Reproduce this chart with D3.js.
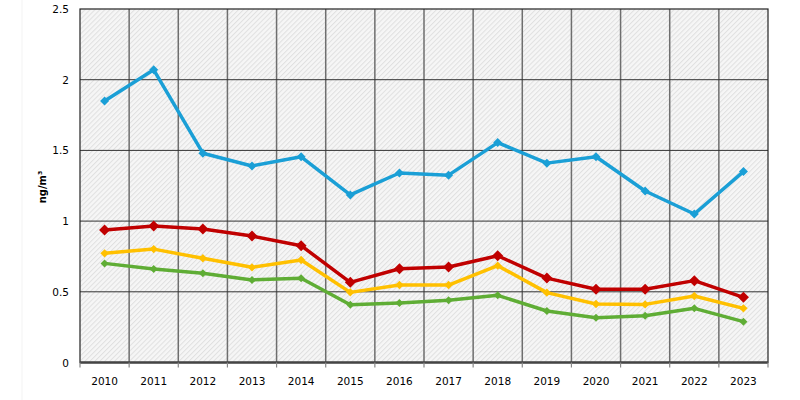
<!DOCTYPE html>
<html><head><meta charset="utf-8">
<script src="https://cdn.jsdelivr.net/npm/d3@7"></script>
<style>body{margin:0;background:#fff}</style>
</head><body>
<svg id="c" width="800" height="400"></svg>
<script>
const years = ["2010","2011","2012","2013","2014","2015","2016","2017","2018","2019","2020","2021","2022","2023"];
const blue   = [1.85,2.07,1.48,1.39,1.455,1.185,1.34,1.325,1.555,1.41,1.455,1.213,1.05,1.35];
const red    = [0.937,0.965,0.944,0.894,0.826,0.567,0.663,0.675,0.755,0.597,0.518,0.518,0.579,0.461];
const yellow = [0.772,0.802,0.737,0.673,0.725,0.496,0.548,0.548,0.685,0.494,0.414,0.411,0.47,0.383];
const green  = [0.701,0.661,0.631,0.584,0.596,0.409,0.421,0.44,0.475,0.364,0.317,0.331,0.383,0.289];
const yTicks = [0,0.5,1,1.5,2,2.5];
const yTickLabels = ["0","0.5","1","1.5","2","2.5"];
const yTitle = "ng/m³";

const series = [
  {values: green,  color:"#5fad35", r:4},
  {values: yellow, color:"#ffc000", r:4.2},
  {values: red,    color:"#c00000", r:5.5},
  {values: blue,   color:"#1a9fd6", r:4.5}
];

const svg = d3.select("#c");
const L=80, R=768, T=9, B=362.5;
const x = d3.scaleBand().domain(years).range([L,R]);
const y = d3.scaleLinear().domain([0,2.5]).range([B,T]);

const defs = svg.append("defs");
const pat = defs.append("pattern").attr("id","hatch").attr("patternUnits","userSpaceOnUse")
  .attr("width",3.5).attr("height",3.5).attr("patternTransform","rotate(45)");
pat.append("rect").attr("width",3.5).attr("height",3.5).attr("fill","#f6f6f6");
pat.append("rect").attr("width",1).attr("height",3.5).attr("fill","#e0e0e0");

svg.append("line").attr("x1",22).attr("x2",22).attr("y1",0).attr("y2",400).attr("stroke","#f3f3f3");

svg.append("rect").attr("x",L).attr("y",T).attr("width",R-L).attr("height",B-T).attr("fill","url(#hatch)");

const bounds = years.map(d=>x(d)).concat([R]);
svg.append("g").selectAll("line").data(bounds.slice(1,-1)).join("line")
  .attr("x1",d=>d).attr("x2",d=>d).attr("y1",T).attr("y2",B)
  .attr("stroke","#6e6e6e").attr("stroke-width",1.5);
svg.append("g").selectAll("line").data(yTicks.slice(1,-1)).join("line")
  .attr("x1",L).attr("x2",R).attr("y1",d=>y(d)).attr("y2",d=>y(d))
  .attr("stroke","#333").attr("stroke-width",1);
svg.append("rect").attr("x",L).attr("y",T).attr("width",R-L).attr("height",B-T)
  .attr("fill","none").attr("stroke","#222").attr("stroke-width",1.2);
svg.append("line").attr("x1",L).attr("x2",R).attr("y1",B).attr("y2",B).attr("stroke","#444").attr("stroke-width",2.5);
svg.append("g").selectAll("line").data(bounds).join("line")
  .attr("x1",d=>d).attr("x2",d=>d).attr("y1",B).attr("y2",B+5)
  .attr("stroke","#888").attr("stroke-width",1.2);

svg.append("g").selectAll("text").data(years).join("text")
  .attr("x",d=>x(d)+x.bandwidth()/2).attr("y",385).attr("text-anchor","middle")
  .attr("font-family","DejaVu Sans").attr("font-size",10.5).attr("fill","#000").text(d=>d);
svg.append("g").selectAll("text").data(yTicks).join("text")
  .attr("x",69).attr("y",d=>y(d)+4).attr("text-anchor","end")
  .attr("font-family","DejaVu Sans").attr("font-size",10.5).attr("fill","#000").text((d,i)=>yTickLabels[i]);
svg.append("text").attr("transform","translate(46,187) rotate(-90)").attr("text-anchor","middle")
  .attr("font-family","DejaVu Sans").attr("font-weight","bold").attr("font-size",10).text(yTitle);

const line = d3.line().x((d,i)=>x(years[i])+x.bandwidth()/2).y(d=>y(d));
series.forEach(s=>{
  const g = svg.append("g");
  g.append("path").attr("d",line(s.values)).attr("fill","none").attr("stroke",s.color)
    .attr("stroke-width",3.5).attr("stroke-linejoin","round");
  const r = s.r;
  g.selectAll("path.m").data(s.values).join("path").attr("class","m")
    .attr("transform",(d,i)=>`translate(${x(years[i])+x.bandwidth()/2},${y(d)})`)
    .attr("d",`M0,${-r}L${r},0L0,${r}L${-r},0Z`).attr("fill",s.color);
});
</script>
</body></html>
